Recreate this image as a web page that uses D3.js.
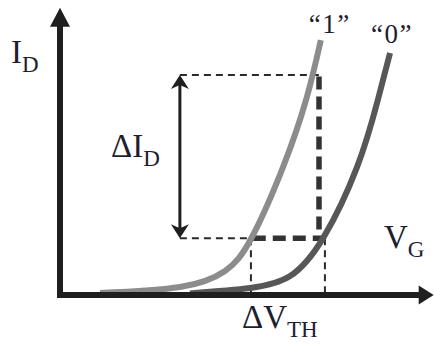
<!DOCTYPE html>
<html>
<head>
<meta charset="utf-8">
<script src="https://cdn.jsdelivr.net/npm/d3@7"></script>
<style>
  html, body { margin: 0; padding: 0; background: #fff; }
  svg { display: block; }
  text { font-family: "Liberation Serif", "Times New Roman", serif; fill: #1e1e30; }
</style>
</head>
<body>
<svg id="chart" width="434" height="344"></svg>
<script>
// Transfer curves I_D(V_G) for the two stored states (arbitrary units)
const state1VG = [1.08, 3.24, 4.46, 5.19, 6.03, 6.65, 7.05];
const state1ID = [0.035, 0.246, 0.81, 2.0, 4.46, 6.81, 8.91];
const state0VG = [3.51, 5.14, 6.22, 7.11, 8.03, 8.59, 8.92];
const state0ID = [0.02, 0.21, 0.63, 1.96, 4.46, 6.81, 8.46];

// Read-out levels and threshold voltages
const readCurrentHigh = 7.68;   // current of state "1" at the read voltage
const readCurrentLow = 1.96;    // current of state "0" at the read voltage
const vth1 = 5.16;              // threshold of state "1"
const vth0 = 7.16;              // threshold of state "0"
const readVoltage = 7.0;        // read voltage (thick dashed line)
const deltaArrowVG = 3.24;      // position of the ΔI_D arrow

const curveNames = ["\u201C1\u201D", "\u201C0\u201D"];

const svg = d3.select("#chart");
const x = d3.scaleLinear().domain([0, 10]).range([60, 430]);
const y = d3.scaleLinear().domain([0, 10]).range([294, 9]);

const ink = "#1f1f1f";

// ---- dashed guide lines ----
const thin = { w: 2, dash: "7,5", col: "#2a2a2a" };
const thick = { w: 5.5, dash: "13,7", col: "#333" };
function seg(x1, y1, x2, y2, s) {
  svg.append("line")
    .attr("x1", x(x1)).attr("y1", y(y1)).attr("x2", x(x2)).attr("y2", y(y2))
    .attr("stroke", s.col).attr("stroke-width", s.w).attr("stroke-dasharray", s.dash);
}
// upper current level
seg(deltaArrowVG, readCurrentHigh, readVoltage, readCurrentHigh, thin);
// lower current level: thin part then thick part
seg(deltaArrowVG, readCurrentLow, vth1, readCurrentLow, thin);
seg(vth1 + 0.05, readCurrentLow, vth0 + 0.05, readCurrentLow, thick);
// read voltage (thick vertical)
seg(readVoltage, readCurrentHigh - 0.05, readVoltage, readCurrentLow, thick);
// threshold drop lines
seg(vth1, readCurrentLow, vth1, 0, thin);
seg(vth0, readCurrentLow, vth0, 0, thin);

// ---- transfer curves ----
const line = d3.line().x(d => x(d[0])).y(d => y(d[1])).curve(d3.curveNatural);
svg.append("path")
  .datum(state1VG.map((v, i) => [v, state1ID[i]]))
  .attr("d", line).attr("fill", "none").attr("stroke", "#8c8c8c").attr("stroke-width", 6);
svg.append("path")
  .datum(state0VG.map((v, i) => [v, state0ID[i]]))
  .attr("d", line).attr("fill", "none").attr("stroke", "#575757").attr("stroke-width", 6);

// ---- axes with arrowheads ----
svg.append("line")
  .attr("x1", x(0)).attr("y1", y(0) + 4).attr("x2", x(0)).attr("y2", y(9.4))
  .attr("stroke", ink).attr("stroke-width", 6);
svg.append("path")
  .attr("d", `M${x(0)},${y(10.04)} L${x(0) - 10},${y(10.04) + 19} L${x(0) + 10},${y(10.04) + 19} Z`)
  .attr("fill", ink);
svg.append("line")
  .attr("x1", x(0) - 3).attr("y1", y(0) + 1).attr("x2", x(9.8)).attr("y2", y(0) + 1)
  .attr("stroke", ink).attr("stroke-width", 6);
svg.append("path")
  .attr("d", `M${x(10.1)},${y(0) + 1} L${x(10.1) - 15},${y(0) - 8.5} L${x(10.1) - 15},${y(0) + 10.5} Z`)
  .attr("fill", ink);

// ---- ΔI_D double arrow ----
const ax = x(deltaArrowVG);
const yTop = y(readCurrentHigh), yBot = y(readCurrentLow);
svg.append("line")
  .attr("x1", ax).attr("y1", yTop + 8).attr("x2", ax).attr("y2", yBot - 8)
  .attr("stroke", ink).attr("stroke-width", 3);
svg.append("path")
  .attr("d", `M${ax},${yTop} L${ax - 9},${yTop + 14} L${ax},${yTop + 10} L${ax + 9},${yTop + 14} Z`)
  .attr("fill", ink);
svg.append("path")
  .attr("d", `M${ax},${yBot} L${ax - 9},${yBot - 14} L${ax},${yBot - 10} L${ax + 9},${yBot - 14} Z`)
  .attr("fill", ink);

// ---- labels ----
function label(px, py, main, sub, size, subSize) {
  const t = svg.append("text").attr("x", px).attr("y", py).attr("font-size", size);
  t.append("tspan").text(main);
  if (sub) t.append("tspan").attr("font-size", subSize).attr("dy", size * 0.27).text(sub);
}
label(11, 63, "I", "D", 33, 23);
label(111, 157, "\u0394I", "D", 33, 23);
label(384, 248, "V", "G", 33, 23);
label(242, 328, "\u0394V", "TH", 33, 23);

svg.append("text").attr("x", x(7.05) + 9).attr("y", 33)
  .attr("font-size", 27).attr("letter-spacing", 1.5).attr("text-anchor", "middle").text(curveNames[0]);
svg.append("text").attr("x", x(8.92) + 2).attr("y", 43)
  .attr("font-size", 27).attr("letter-spacing", 1.5).attr("text-anchor", "middle").text(curveNames[1]);
</script>
</body>
</html>
